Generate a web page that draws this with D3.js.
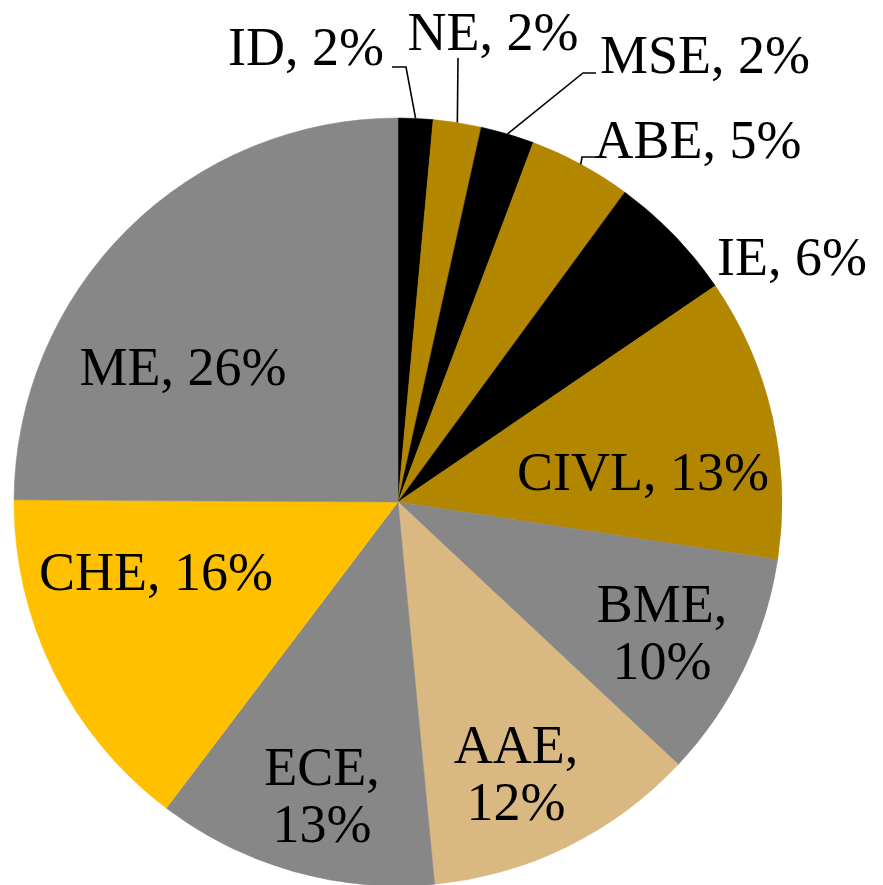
<!DOCTYPE html>
<html><head><meta charset="utf-8">
<script src="https://cdn.jsdelivr.net/npm/d3@7"></script>
<style>html,body{margin:0;padding:0;background:#fff;}svg{display:block;}</style>
</head><body>
<svg id="chart" width="883" height="885"></svg>
<script>
// ---- data (clockwise from 12 o'clock) ----
const categories = ["ID","NE","MSE","ABE","IE","CIVL","BME","AAE","ECE","CHE","ME"];
const values     = [1.46, 2.02, 2.25, 4.33, 5.42, 11.92, 9.58, 11.5, 11.83, 14.78, 24.91];
const pctLabels  = ["2%","2%","2%","5%","6%","13%","10%","12%","13%","16%","26%"];
const sliceColors = ["#000000","#B38600","#000000","#B38600","#000000","#B38600","#878787","#D9B882","#878787","#FFC000","#878787"];

// ---- layout (not data) ----
const W = 883, H = 885, cx = 398, cy = 502, R = 384;
// label text anchors relative to pie center; lines: line breaks; leader: elbow points
const labelLayout = [
  {x: 306, y: 65,  lines: 1, leader: [[406,67],[392,67]]},
  {x: 493, y: 50,  lines: 1, leader: [[458,58]]},
  {x: 705, y: 73,  lines: 1, leader: [[583,73],[596,73]]},
  {x: 698, y: 158, lines: 1, leader: [[582,157],[596,157]]},
  {x: 792, y: 275, lines: 1},
  {x: 643, y: 490, lines: 1},
  {x: 662, y: 622, lines: 2},
  {x: 516, y: 763, lines: 2},
  {x: 322, y: 785, lines: 2},
  {x: 156, y: 590, lines: 1},
  {x: 183, y: 385, lines: 1}
];

const svg = d3.select("#chart");
const g = svg.append("g").attr("transform", `translate(${cx},${cy})`);

const pie = d3.pie().sort(null).value(d => d.v);
const data = categories.map((c, i) => ({c, v: values[i], p: pctLabels[i], col: sliceColors[i], L: labelLayout[i]}));
const arcs = pie(data);
const arc = d3.arc().innerRadius(0).outerRadius(R);

g.selectAll("path.slice").data(arcs).enter().append("path")
  .attr("class","slice")
  .attr("d", arc)
  .attr("fill", d => d.data.col)
  .attr("stroke", d => d.data.col)
  .attr("stroke-width", 0.5);

// leader lines
const line = d3.line();
arcs.forEach(a => {
  const L = a.data.L;
  if (!L.leader) return;
  const mid = (a.startAngle + a.endAngle) / 2;
  const p0 = [cx + R * Math.sin(mid), cy - R * Math.cos(mid)];
  const pts = [p0].concat(L.leader);
  svg.append("path").attr("d", line(pts)).attr("fill","none")
    .attr("stroke","#000").attr("stroke-width",1.6);
});

// labels
const fontFam = "'Liberation Serif','Times New Roman',serif";
arcs.forEach(a => {
  const L = a.data.L;
  const t = svg.append("text")
    .attr("text-anchor","middle")
    .attr("font-family", fontFam)
    .attr("font-size", 54)
    .attr("fill","#000");
  if (L.lines === 1) {
    t.attr("x", L.x).attr("y", L.y).text(`${a.data.c}, ${a.data.p}`);
  } else {
    t.append("tspan").attr("x", L.x).attr("y", L.y).text(`${a.data.c},`);
    t.append("tspan").attr("x", L.x).attr("y", L.y + 57).text(a.data.p);
  }
});
</script>
</body></html>
